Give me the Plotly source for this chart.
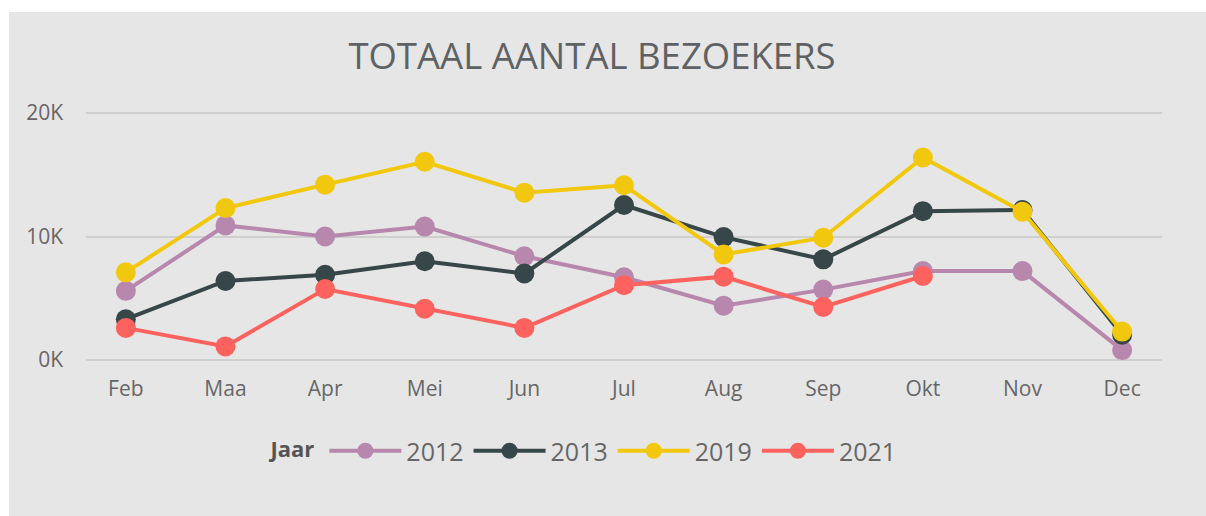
import plotly.graph_objects as go

months = ["Feb", "Maa", "Apr", "Mei", "Jun", "Jul", "Aug", "Sep", "Okt", "Nov", "Dec"]
years = ["2012", "2013", "2019", "2021"]
v2012 = [5600, 10900, 10000, 10800, 8400, 6700, 4400, 5700, 7200, 7200, 800]
v2013 = [3300, 6400, 6900, 8000, 7000, 12550, 9950, 8150, 12050, 12150, 2050]
v2019 = [7100, 12300, 14200, 16050, 13550, 14150, 8550, 9900, 16400, 12000, 2300]
v2021 = [2600, 1100, 5750, 4150, 2600, 6050, 6750, 4300, 6800, None, None]
series = [v2012, v2013, v2019, v2021]
colors = ["#B887AD", "#374649", "#F2C80F", "#FD625E"]

W, H = 1206, 516
ML, MR, MT, MB = 86, 44, 111, 154
pw, ph = W - ML - MR, H - MT - MB
# 0K gridline at pixel 360, 20K gridline at pixel 113
per_px = 20000 / 247
y_lo = -(H - MB - 360) * per_px
y_hi = 20000 + (113 - MT) * per_px

fig = go.Figure()
for name, vals, col in zip(years, series, colors):
    fig.add_trace(go.Scatter(
        x=months, y=vals, name=name, mode="lines+markers",
        line=dict(color=col, width=4),
        marker=dict(color=col, size=20),
        cliponaxis=False,
    ))

def px_x(p):
    return (p - ML) / pw

def px_y(p):
    return (H - MB - p) / ph

fig.update_layout(
    width=W, height=H,
    margin=dict(l=ML, r=MR, t=MT, b=MB),
    paper_bgcolor="white",
    plot_bgcolor="rgba(0,0,0,0)",
    font=dict(family="Open Sans, sans-serif", color="#666666"),
    title=dict(text="TOTAAL AANTAL BEZOEKERS", x=592 / W, xanchor="center",
               y=1 - 56 / H, yanchor="middle",
               font=dict(size=36.5, color="#5F6264", family="Open Sans, sans-serif")),
    showlegend=True,
    legend=dict(orientation="h", x=px_x(585), xanchor="center", y=px_y(451), yanchor="middle",
                title=dict(text="<b>Jaar</b>", font=dict(size=22, color="#555555")),
                font=dict(size=25, color="#666666"),
                bgcolor="rgba(0,0,0,0)", itemwidth=72),
    shapes=[dict(type="rect", xref="paper", yref="paper", layer="below",
                 x0=px_x(9), x1=px_x(1210), y0=px_y(12), y1=px_y(520),
                 fillcolor="#E6E6E6", line=dict(width=0))],
    xaxis=dict(type="category", range=[-0.4, 10.4], showgrid=False, zeroline=False,
               showline=False, ticks="", tickfont=dict(size=21, color="#666666"),
               ticklabelstandoff=12),
    yaxis=dict(range=[y_lo, y_hi], tickvals=[0, 10000, 20000], ticktext=["0K", "10K", "20K"],
               showgrid=True, gridcolor="#CFCFCF", gridwidth=2, zeroline=False,
               showline=False, ticks="", tickfont=dict(size=21, color="#666666"),
               ticklabelstandoff=22),
)

fig.write_html("out.html")
